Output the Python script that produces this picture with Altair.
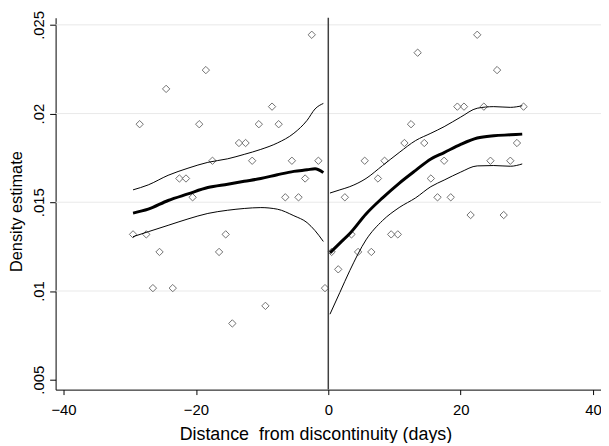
import altair as alt
import pandas as pd

# ---- binned densities (hollow diamonds) ----
bin_x = [-29.5, -28.5, -27.5, -26.5, -25.5, -24.5, -23.5, -22.5, -21.5, -20.5,
         -19.5, -18.5, -17.5, -16.5, -15.5, -14.5, -13.5, -12.5, -11.5, -10.5,
         -9.5, -8.5, -7.5, -6.5, -5.5, -4.5, -3.5, -2.5, -1.5, -0.5,
         0.5, 1.5, 2.5, 3.5, 4.5, 5.5, 6.5, 7.5, 8.5, 9.5,
         10.5, 11.5, 12.5, 13.5, 14.5, 15.5, 16.5, 17.5, 18.5, 19.5,
         20.5, 21.5, 22.5, 23.5, 24.5, 25.5, 26.5, 27.5, 28.5, 29.5]
bin_density = [0.01319, 0.01940, 0.01319, 0.01016, 0.01220, 0.02139, 0.01016, 0.01634, 0.01634, 0.01528,
               0.01940, 0.02245, 0.01734, 0.01220, 0.01319, 0.00817, 0.01834, 0.01834, 0.01734, 0.01940,
               0.00916, 0.02039, 0.01940, 0.01528, 0.01734, 0.01528, 0.01634, 0.02444, 0.01734, 0.01016,
               0.01220, 0.01122, 0.01528, 0.01319, 0.01220, 0.01734, 0.01220, 0.01634, 0.01734, 0.01319,
               0.01319, 0.01834, 0.01940, 0.02343, 0.01834, 0.01634, 0.01528, 0.01734, 0.01528, 0.02039,
               0.02039, 0.01428, 0.02444, 0.02039, 0.01734, 0.02245, 0.01428, 0.01734, 0.01834, 0.02039]

# ---- left-side fitted density and confidence band ----
left_x = [-29.5, -27.2, -24.2, -21.2, -18.2, -15.2, -12.7, -10.2, -7.7, -5.2, -3.2, -2.0, -0.75]
left_fit = [0.01439, 0.01461, 0.01510, 0.01547, 0.01583, 0.01602, 0.01618, 0.01634, 0.01655, 0.01674, 0.01683, 0.01689, 0.01667]
left_hi = [0.01570, 0.01598, 0.01652, 0.01692, 0.01725, 0.01745, 0.01770, 0.01798, 0.01834, 0.01889, 0.01962, 0.02026, 0.02057]
left_lo = [0.01306, 0.01334, 0.01370, 0.01406, 0.01437, 0.01455, 0.01465, 0.01470, 0.01461, 0.01424, 0.01385, 0.01340, 0.01279]

# ---- right-side fitted density and confidence band ----
right_x = [0.25, 1.75, 3.25, 5.7, 8.2, 10.7, 13.2, 15.5, 17.5, 20.0, 22.5, 25.0, 27.5, 29.3]
right_fit = [0.01215, 0.01270, 0.01324, 0.01434, 0.01525, 0.01607, 0.01680, 0.01744, 0.01780, 0.01826, 0.01862, 0.01875, 0.01880, 0.01884]
right_hi = [0.01552, 0.01570, 0.01588, 0.01634, 0.01707, 0.01780, 0.01848, 0.01889, 0.01926, 0.01980, 0.02030, 0.02039, 0.02035, 0.02044]
right_lo = [0.00869, 0.00992, 0.01115, 0.01288, 0.01397, 0.01470, 0.01525, 0.01588, 0.01625, 0.01670, 0.01705, 0.01707, 0.01703, 0.01716]

x_ticks = [-40, -20, 0, 20, 40]
y_ticks = [0.005, 0.01, 0.015, 0.02, 0.025]
grid_y = [0.01, 0.015, 0.02, 0.025]

pts = pd.DataFrame({"x": bin_x, "y": bin_density})

rows = []
for side, xs, fit, hi, lo in [("L", left_x, left_fit, left_hi, left_lo),
                              ("R", right_x, right_fit, right_hi, right_lo)]:
    for name, ys in [("fit", fit), ("hi", hi), ("lo", lo)]:
        for i, (xv, yv) in enumerate(zip(xs, ys)):
            rows.append({"x": xv, "y": yv, "curve": side + "_" + name,
                         "kind": "fit" if name == "fit" else "ci", "order": i})
curves = pd.DataFrame(rows)

FONT = "Liberation Sans"
xscale = alt.Scale(domain=[-41.2, 41.2], nice=False, zero=False)
yscale = alt.Scale(domain=[0.00444, 0.0254], nice=False, zero=False)

xaxis = alt.Axis(values=x_ticks, format="d", grid=False, tickSize=5, labelPadding=8,
                 domainColor="black", tickColor="black", labelColor="black",
                 labelFont=FONT, labelFontSize=15, title="Distance\u00a0 from discontinuity (days)",
                 titleFont=FONT, titleFontSize=18, titleFontWeight="normal", titleColor="black",
                 titleX=262, titleY=50, titleBaseline="alphabetic", titleAlign="center")
yaxis = alt.Axis(values=y_ticks, labelExpr="substring(format(datum.value, '.3~f'), 1)", grid=False,
                 tickSize=6, labelPadding=3, labelAngle=270, labelAlign="center", labelBaseline="bottom",
                 domainColor="black", tickColor="black", labelColor="black",
                 labelFont=FONT, labelFontSize=15, title="Density estimate",
                 titleFont=FONT, titleFontSize=16.5, titleFontWeight="normal", titleColor="black",
                 titleAngle=270, titleX=-39, titleY=195, titleAlign="center", titleBaseline="middle")

grid = alt.Chart(pd.DataFrame({"y": grid_y})).mark_rule(color="#e9e9e9", strokeWidth=1).encode(
    y=alt.Y("y:Q", scale=yscale, axis=yaxis)
)

points = alt.Chart(pts).mark_point(shape="diamond", filled=False, size=55,
                                   color="#707070", strokeWidth=1, opacity=1).encode(
    x=alt.X("x:Q", scale=xscale, axis=xaxis),
    y=alt.Y("y:Q", scale=yscale, axis=yaxis),
)

ci = alt.Chart(curves[curves["kind"] == "ci"]).mark_line(color="black", strokeWidth=1,
                                                          interpolate="monotone").encode(
    x=alt.X("x:Q", scale=xscale, axis=xaxis),
    y=alt.Y("y:Q", scale=yscale, axis=yaxis),
    detail="curve:N", order="order:Q"
)
fit = alt.Chart(curves[curves["kind"] == "fit"]).mark_line(color="black", strokeWidth=3,
                                                            interpolate="monotone").encode(
    x=alt.X("x:Q", scale=xscale, axis=xaxis),
    y=alt.Y("y:Q", scale=yscale, axis=yaxis),
    detail="curve:N", order="order:Q"
)

vline = alt.Chart(pd.DataFrame({"x": [0]})).mark_rule(color="#404040", strokeWidth=1.5).encode(
    x=alt.X("x:Q", scale=xscale, axis=xaxis)
)

chart = alt.layer(grid, points, ci, fit, vline).properties(
    width=550, height=375,
    autosize=alt.AutoSizeParams(type="none"),
    padding={"left": 48, "top": 8, "right": 0, "bottom": 52},
    background="white",
).configure_view(stroke=None)

chart.save("out.html", embed_options={"renderer": "svg", "actions": False})
